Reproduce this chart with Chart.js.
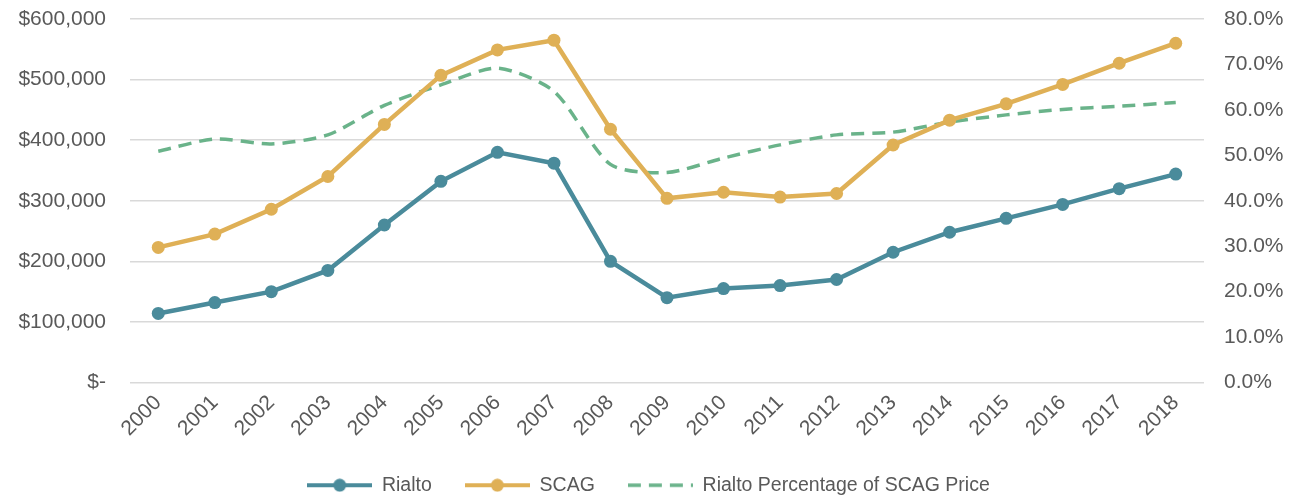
<!DOCTYPE html>
<html>
<head>
<meta charset="utf-8">
<script src="https://cdn.jsdelivr.net/npm/chart.js@4.4.1/dist/chart.umd.min.js"></script>
<style>
html,body{margin:0;padding:0;background:#fff;}
#wrap{width:1297px;height:497px;}
</style>
</head>
<body>
<div id="wrap"><canvas id="c" width="1297" height="497"></canvas></div>
<script>
const years = ['2000','2001','2002','2003','2004','2005','2006','2007','2008','2009','2010','2011','2012','2013','2014','2015','2016','2017','2018'];
const rialto = [114000,132000,150000,185000,260000,332000,380000,362000,200000,140000,155000,160000,170000,215000,248000,271000,294000,320000,344000];
const scag = [223000,245000,286000,340000,426000,507000,549000,565000,418000,304000,314000,306000,312000,392000,433000,460000,492000,527000,560000];
const pctOfScag = [0.509,0.536,0.525,0.545,0.610,0.655,0.692,0.641,0.480,0.462,0.494,0.523,0.545,0.551,0.573,0.589,0.601,0.608,0.616];
const leftTicks = [0,100000,200000,300000,400000,500000,600000];
const rightTicks = [0,0.1,0.2,0.3,0.4,0.5,0.6,0.7,0.8];

const TEAL = '#4A8B9B';
const GOLD = '#DFB056';
const GREEN = '#6AB38A';
const TXT = '#595959';
const FONT = 'Liberation Sans';

function markerCanvas(color, dashed){
  const cv = document.createElement('canvas');
  cv.width = 65; cv.height = 14;
  const g = cv.getContext('2d');
  g.strokeStyle = color; g.lineWidth = dashed ? 3.5 : 4;
  if (dashed) g.setLineDash([13,8]);
  g.beginPath(); g.moveTo(0,7); g.lineTo(65,7); g.stroke();
  if (!dashed){
    g.fillStyle = color;
    g.beginPath(); g.arc(32.5,7,6.5,0,Math.PI*2); g.fill();
  }
  return cv;
}
const markers = [markerCanvas(TEAL,false), markerCanvas(GOLD,false), markerCanvas(GREEN,true)];

function money(v){
  if (v === 0) return '$-';
  return '$' + v.toLocaleString('en-US');
}

const shiftLegend = {
  id:'shiftLegend',
  afterLayout(chart){
    const lg = chart.legend;
    if (lg){ lg.top += 8; lg.bottom += 8; }
  }
};

function fixV(width){
  return function(s){ s.width = width; s.paddingTop = 0; s.paddingBottom = 0; };
}

new Chart(document.getElementById('c'), {
  type: 'line',
  data: {
    labels: years,
    datasets: [
      {label:'Rialto', data:rialto, yAxisID:'y', borderColor:TEAL, backgroundColor:TEAL,
       borderWidth:4.5, pointRadius:6.5, pointHoverRadius:6.5, pointBackgroundColor:TEAL, pointBorderWidth:0, tension:0},
      {label:'SCAG', data:scag, yAxisID:'y', borderColor:GOLD, backgroundColor:GOLD,
       borderWidth:4.5, pointRadius:6.5, pointHoverRadius:6.5, pointBackgroundColor:GOLD, pointBorderWidth:0, tension:0},
      {label:'Rialto Percentage of SCAG Price', data:pctOfScag, yAxisID:'y1', borderColor:GREEN, backgroundColor:GREEN,
       borderWidth:3.5, borderDash:[13,8], pointRadius:0, tension:0.25}
    ]
  },
  plugins:[shiftLegend],
  options: {
    responsive:false,
    animation:false,
    layout:{padding:{top:19,left:0,right:0,bottom:0}},
    scales:{
      x:{
        offset:true,
        grid:{display:false, drawTicks:false},
        border:{display:false},
        ticks:{color:TXT, font:{family:FONT,size:21}, minRotation:45, maxRotation:45, autoSkip:false, padding:8},
        afterFit(s){ s.height = 52; s._computeLabelArea = () => undefined; }
      },
      y:{
        position:'left', min:0, max:600000,
        afterBuildTicks(s){ s.ticks = leftTicks.map(v=>({value:v})); },
        grid:{color:'#D9D9D9', lineWidth:1.5, drawTicks:false},
        border:{display:false},
        ticks:{color:TXT, font:{family:FONT,size:21}, padding:24, callback:v=>money(v)},
        afterFit: fixV(130)
      },
      y1:{
        position:'right', min:0, max:0.8,
        afterBuildTicks(s){ s.ticks = rightTicks.map(v=>({value:v})); },
        grid:{display:false, drawTicks:false},
        border:{display:false},
        ticks:{color:TXT, font:{family:FONT,size:21}, padding:20, callback:v=>(v*100).toFixed(1)+'%'},
        afterFit: fixV(93)
      }
    },
    plugins:{
      tooltip:{enabled:false},
      legend:{
        position:'bottom',
        labels:{
          color:TXT, font:{family:FONT,size:19.5}, usePointStyle:true, pointStyleWidth:65, padding:33,
          generateLabels(chart){
            return chart.data.datasets.map((d,i)=>({
              text:d.label, pointStyle:markers[i], fillStyle:d.borderColor, strokeStyle:d.borderColor,
              lineWidth:0, fontColor:TXT, datasetIndex:i, hidden:false
            }));
          }
        }
      }
    }
  }
});
</script>
</body>
</html>
